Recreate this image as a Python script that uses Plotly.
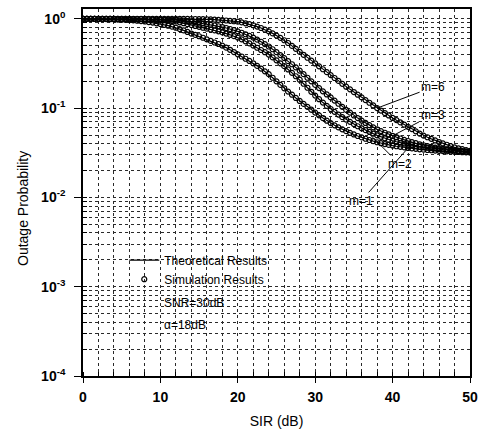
import numpy as np
import plotly.graph_objects as go

# SIR axis (dB), 0.5 dB steps
sir_db = np.arange(0, 50.5, 0.5)

# log10 of outage probability
log_pout_m1 = [0.000,0.000,-0.001,-0.001,-0.002,-0.003,-0.004,-0.005,-0.006,-0.008,
    -0.010,-0.012,-0.015,-0.018,-0.021,-0.025,-0.030,-0.036,-0.042,-0.050,
    -0.058,-0.067,-0.077,-0.088,-0.100,-0.115,-0.130,-0.147,-0.165,-0.180,
    -0.195,-0.212,-0.230,-0.247,-0.265,-0.282,-0.300,-0.323,-0.347,-0.372,
    -0.398,-0.422,-0.447,-0.472,-0.498,-0.527,-0.557,-0.588,-0.620,-0.660,
    -0.700,-0.740,-0.778,-0.815,-0.850,-0.886,-0.920,-0.953,-0.986,-1.018,
    -1.050,-1.081,-1.111,-1.141,-1.168,-1.193,-1.216,-1.238,-1.258,-1.277,
    -1.295,-1.312,-1.328,-1.343,-1.357,-1.370,-1.382,-1.393,-1.403,-1.412,
    -1.420,-1.427,-1.434,-1.440,-1.446,-1.451,-1.456,-1.461,-1.465,-1.469,
    -1.472,-1.475,-1.478,-1.481,-1.484,-1.486,-1.489,-1.491,-1.494,-1.496,
    -1.498]

log_pout_m2 = [0,0,0,0,-0.001,-0.001,-0.001,-0.001,-0.002,-0.002,
    -0.002,-0.003,-0.003,-0.004,-0.004,-0.005,-0.006,-0.007,-0.008,-0.010,
    -0.012,-0.015,-0.019,-0.024,-0.030,-0.039,-0.049,-0.060,-0.070,-0.080,
    -0.090,-0.100,-0.110,-0.120,-0.130,-0.140,-0.152,-0.165,-0.179,-0.194,
    -0.210,-0.230,-0.252,-0.275,-0.300,-0.324,-0.349,-0.374,-0.400,-0.432,
    -0.465,-0.498,-0.530,-0.567,-0.605,-0.643,-0.682,-0.727,-0.772,-0.817,
    -0.860,-0.900,-0.938,-0.975,-1.010,-1.042,-1.072,-1.101,-1.128,-1.154,
    -1.179,-1.203,-1.226,-1.247,-1.267,-1.286,-1.305,-1.322,-1.338,-1.353,
    -1.366,-1.377,-1.388,-1.398,-1.407,-1.415,-1.423,-1.430,-1.437,-1.443,
    -1.449,-1.454,-1.459,-1.464,-1.468,-1.472,-1.476,-1.480,-1.484,-1.487,
    -1.490]

log_pout_m3 = [0,0,0,0,0,0,0,-0.001,-0.001,-0.001,
    -0.001,-0.001,-0.001,-0.002,-0.002,-0.002,-0.003,-0.003,-0.004,-0.005,
    -0.006,-0.007,-0.008,-0.010,-0.012,-0.016,-0.020,-0.025,-0.030,-0.037,
    -0.044,-0.052,-0.060,-0.067,-0.075,-0.083,-0.092,-0.103,-0.114,-0.126,
    -0.140,-0.156,-0.173,-0.191,-0.210,-0.233,-0.257,-0.283,-0.310,-0.341,
    -0.373,-0.406,-0.440,-0.474,-0.509,-0.544,-0.580,-0.620,-0.660,-0.700,
    -0.740,-0.776,-0.812,-0.847,-0.880,-0.916,-0.951,-0.986,-1.020,-1.051,
    -1.082,-1.112,-1.140,-1.166,-1.191,-1.215,-1.238,-1.257,-1.276,-1.293,
    -1.310,-1.325,-1.340,-1.355,-1.368,-1.381,-1.393,-1.405,-1.416,-1.425,
    -1.434,-1.442,-1.449,-1.456,-1.462,-1.468,-1.473,-1.478,-1.482,-1.486,
    -1.490]

log_pout_m6 = [0,0,0,0,0,0,0,0,0,0,
    0,0,0,0,0,0,0,0,0,0,
    0,0,0,0,0,-0.001,-0.001,-0.001,-0.002,-0.002,
    -0.003,-0.004,-0.005,-0.007,-0.009,-0.012,-0.015,-0.019,-0.023,-0.027,
    -0.032,-0.040,-0.050,-0.060,-0.072,-0.087,-0.103,-0.121,-0.140,-0.163,
    -0.188,-0.213,-0.240,-0.271,-0.303,-0.336,-0.370,-0.403,-0.436,-0.468,
    -0.500,-0.532,-0.565,-0.597,-0.630,-0.663,-0.695,-0.728,-0.760,-0.790,
    -0.820,-0.850,-0.880,-0.910,-0.940,-0.970,-1.000,-1.027,-1.055,-1.082,
    -1.110,-1.135,-1.160,-1.185,-1.210,-1.235,-1.260,-1.285,-1.308,-1.326,
    -1.344,-1.362,-1.380,-1.395,-1.410,-1.425,-1.440,-1.450,-1.460,-1.470,
    -1.478]

curve_names = ["m=1", "m=2", "m=3", "m=6"]
curve_logs = [log_pout_m1, log_pout_m2, log_pout_m3, log_pout_m6]

y_tickvals = [1e-4, 1e-3, 1e-2, 1e-1, 1]
y_ticktext = ["10<sup>-4</sup>", "10<sup>-3</sup>", "10<sup>-2</sup>", "10<sup>-1</sup>", "10<sup>0</sup>"]
x_tickvals = [0, 10, 20, 30, 40, 50]

FONT = "Liberation Sans, Arial, sans-serif"

fig = go.Figure()
for name, lg in zip(curve_names, curve_logs):
    pout = 10 ** np.array(lg)
    fig.add_trace(go.Scatter(
        x=sir_db, y=pout, mode="lines+markers", name=name, showlegend=False,
        line=dict(color="black", width=1.2),
        marker=dict(symbol="circle-open", size=5, color="black", line=dict(width=1.2)),
    ))

# legend entries
fig.add_trace(go.Scatter(x=[None], y=[None], mode="lines", name="Theoretical Results",
                         line=dict(color="black", width=1.2)))
fig.add_trace(go.Scatter(x=[None], y=[None], mode="markers", name="Simulation Results",
                         marker=dict(symbol="circle-open", size=5, color="black", line=dict(width=1.2))))

grid_color = "#2a2a2a"
fig.update_xaxes(
    range=[0, 50], tickvals=x_tickvals, ticktext=[str(v) for v in x_tickvals],
    showline=True, linecolor="black", linewidth=1.6, mirror=True,
    ticks="outside", ticklen=5, tickcolor="black", tickwidth=1.2,
    ticklabelstandoff=2,
    showgrid=True, gridcolor=grid_color, griddash="dot", gridwidth=1,
    minor=dict(dtick=2, ticks="inside", ticklen=4, tickcolor="black",
               showgrid=True, gridcolor=grid_color, griddash="dot", gridwidth=1),
    tickfont=dict(family=FONT, size=14, color="black", weight="bold"),
    title=dict(text="SIR (dB)", font=dict(family=FONT, size=14, color="black"), standoff=13),
    zeroline=False,
)
fig.update_yaxes(
    type="log", range=[-4, 0.11], tickvals=y_tickvals, ticktext=y_ticktext,
    showline=True, linecolor="black", linewidth=1.6, mirror=True,
    ticks="outside", ticklen=7, tickcolor="black", tickwidth=1.2,
    ticklabelstandoff=6,
    showgrid=True, gridcolor=grid_color, griddash="dot", gridwidth=1,
    minor=dict(dtick="D1", ticks="inside", ticklen=4, tickcolor="black",
               showgrid=True, gridcolor=grid_color, griddash="dot", gridwidth=1),
    tickfont=dict(family=FONT, size=14, color="black", weight="bold"),
    zeroline=False,
)

# y-axis title as rotated annotation (positioned like the reference)
fig.add_annotation(x=-(83 - 22) / 394, y=(376 - 208) / 369, xref="paper", yref="paper",
                   text="Outage Probability", textangle=-90, showarrow=False,
                   xanchor="center", yanchor="middle",
                   font=dict(family=FONT, size=14, color="black"))

ann_font = dict(family=FONT, size=12, color="black")
label_specs = [
    ("m=6", log_pout_m6, 76, 56, -21),
    ("m=3", log_pout_m3, 80, 40, -21),
    ("m=2", log_pout_m2, 73, 34, 34),
    ("m=1", log_pout_m1, 84, -47, 53),
]
for text, lg, idx, ax, ay in label_specs:
    fig.add_annotation(x=sir_db[idx], y=lg[idx], xref="x", yref="y",
                       text=text, showarrow=True, arrowhead=0, arrowwidth=1, arrowcolor="black",
                       ax=ax, ay=ay, font=ann_font)

fig.add_annotation(x=(163 - 83) / 394, y=(376 - 303) / 369, xref="paper", yref="paper",
                   text="SNR=30dB", showarrow=False, xanchor="left", yanchor="middle", font=ann_font)
fig.add_annotation(x=(163 - 83) / 394, y=(376 - 325) / 369, xref="paper", yref="paper",
                   text="α=18dB", showarrow=False, xanchor="left", yanchor="middle", font=ann_font)

fig.update_layout(
    width=485, height=434,
    margin=dict(l=83, r=8, t=7, b=58),
    paper_bgcolor="white", plot_bgcolor="white",
    showlegend=True,
    legend=dict(x=(125 - 83) / 394, y=(376 - 245) / 369, xanchor="left", yanchor="top",
                bgcolor="rgba(0,0,0,0)", font=ann_font, tracegroupgap=0, itemwidth=30),
    font=dict(family=FONT, color="black"),
)

fig.write_html("out.html")
